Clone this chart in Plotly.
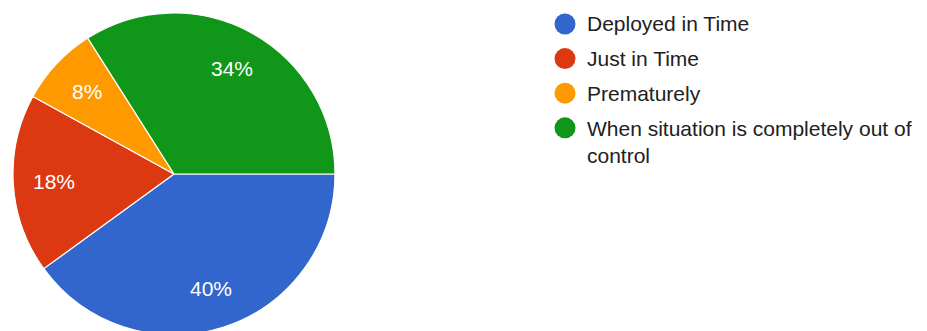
import math
import plotly.graph_objects as go

# Survey answers and their shares (percent)
labels = ["Deployed in Time", "Just in Time", "Prematurely",
          "When situation is completely out of<br>control"]
values = [40, 18, 8, 34]
colors = ["#3366cc", "#dc3912", "#ff9900", "#109618"]

W, H = 927, 340
FONT = "Liberation Sans, Arial, Helvetica, sans-serif"

# pie placement (pixels)
cx, cy, R = 174, 174, 161
start_angle = 90  # degrees clockwise from 12 o'clock

fig = go.Figure()

fig.add_trace(go.Pie(
    labels=labels,
    values=values,
    sort=False,
    direction="clockwise",
    rotation=start_angle,
    marker=dict(colors=colors, line=dict(color="white", width=1.2)),
    textinfo="none",
    showlegend=False,
    hoverinfo="label+percent",
    domain=dict(x=[(cx - R) / W, (cx + R) / W], y=[1 - (cy + R) / H, 1 - (cy - R) / H]),
))

annotations = []

# Percent labels placed along each slice's middle angle
total = sum(values)
acc = 0
for v in values:
    mid = start_angle + (acc + v / 2) / total * 360
    acc += v
    rad = math.radians(mid)
    px = cx + 0.745 * R * math.sin(rad)
    py = cy - 0.745 * R * math.cos(rad)
    annotations.append(dict(
        text=f"{round(v / total * 100)}%", xref="paper", yref="paper",
        x=px / W, y=1 - py / H, xanchor="center", yanchor="middle",
        showarrow=False, font=dict(size=21, color="white", family=FONT),
    ))

# Legend drawn as round swatches with labels next to them
shapes = []
x_dot = 565
r_dot = 10.5
x_text = 585
y0, step = 24, 34.6
line_h = 27.5
for i, (lab, col) in enumerate(zip(labels, colors)):
    yc = y0 + i * step
    shapes.append(dict(
        type="circle", xref="paper", yref="paper",
        x0=(x_dot - r_dot) / W, x1=(x_dot + r_dot) / W,
        y0=1 - (yc + r_dot) / H, y1=1 - (yc - r_dot) / H,
        fillcolor=col, line=dict(width=0),
    ))
    nlines = lab.count("<br>") + 1
    ymid = yc + (nlines - 1) * line_h / 2
    annotations.append(dict(
        text=lab, xref="paper", yref="paper",
        x=x_text / W, y=1 - ymid / H,
        xanchor="left", yanchor="middle", align="left",
        showarrow=False,
        font=dict(size=21, color="#212121", family=FONT),
    ))

fig.update_layout(
    width=W, height=H,
    margin=dict(l=0, r=0, t=0, b=0),
    paper_bgcolor="white",
    plot_bgcolor="white",
    shapes=shapes,
    annotations=annotations,
)

fig.write_html(
    "out.html",
    post_script="document.body.style.margin='0';document.body.style.overflow='hidden';",
)
